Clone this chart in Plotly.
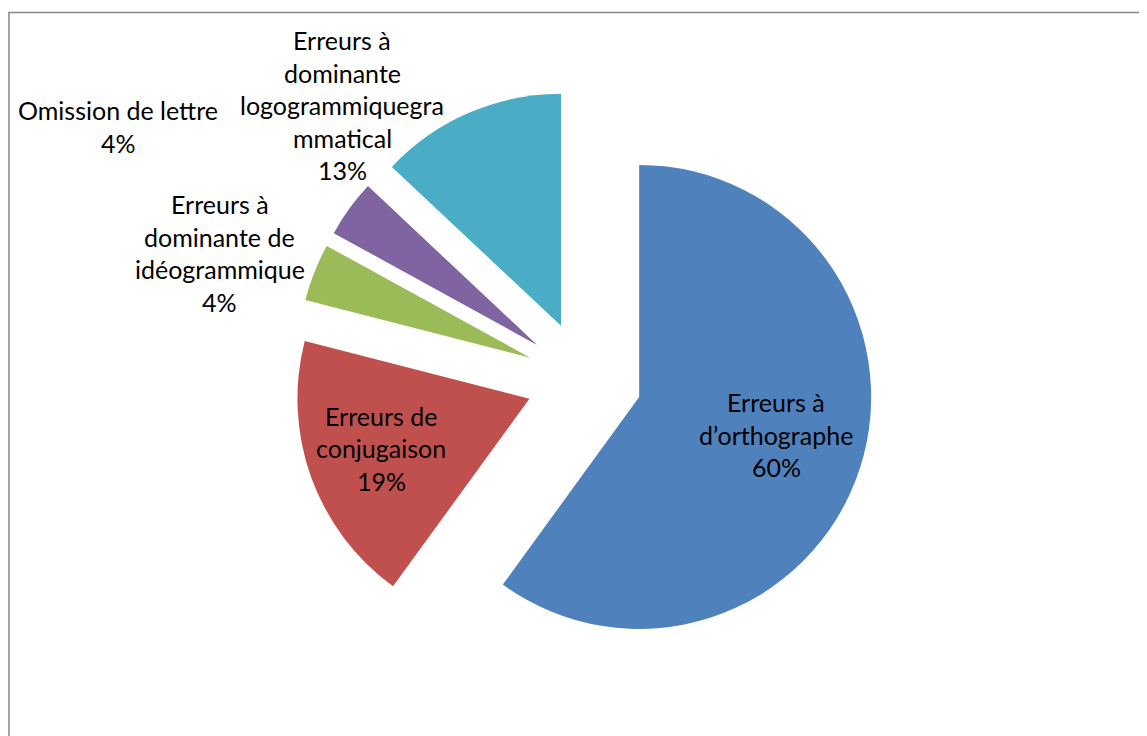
import plotly.graph_objects as go

# ---- data ----
categories = [
    "Erreurs à d’orthographe",
    "Erreurs de conjugaison",
    "Erreurs à dominante de idéogrammique",
    "Omission de lettre",
    "Erreurs à dominante logogrammiquegrammatical",
]
values = [60, 19, 4, 4, 13]
colors = ["#4F81BD", "#C0504D", "#9BBB59", "#8064A2", "#4BACC6"]

# label wrapping as displayed
label_lines = [
    ["Erreurs à", "d’orthographe"],
    ["Erreurs de", "conjugaison"],
    ["Erreurs à", "dominante de", "idéogrammique"],
    ["Omission de lettre"],
    ["Erreurs à", "dominante", "logogrammiquegra", "mmatical"],
]

# ---- layout constants (pixels, page coordinates) ----
OFF = 8  # page body margin
W, H = 1147 - OFF, 736 - OFF
FONT = "Lato"
FSIZE = 25
LINE = 32.5
# centre (x) and first-line centre (y) of each label, in page pixels
label_pos = [(776, 402), (381, 416), (220, 204), (118, 110), (342, 40)]

total = sum(values)
pcts = [f"{round(v / total * 100)}%" for v in values]

fig = go.Figure(
    go.Pie(
        labels=categories,
        values=values,
        sort=False,
        direction="clockwise",
        rotation=0,
        pull=[0.25] * len(values),
        marker=dict(colors=colors, line=dict(width=0)),
        textinfo="none",
        hoverinfo="label+percent",
        showlegend=False,
        domain=dict(x=[0.20571, 0.80571], y=[0.092033, 0.888736]),
    )
)

annotations = []
for lines, pct, (px, py) in zip(label_lines, pcts, label_pos):
    for i, t in enumerate(lines + [pct]):
        annotations.append(
            dict(
                x=(px - OFF) / W,
                y=1 - (py - OFF + i * LINE) / H,
                xref="paper",
                yref="paper",
                text=t,
                showarrow=False,
                xanchor="center",
                yanchor="middle",
                font=dict(family=FONT, size=FSIZE, color="#000000"),
            )
        )

fig.update_layout(
    width=W,
    height=H,
    margin=dict(l=0, r=0, t=0, b=0),
    paper_bgcolor="white",
    plot_bgcolor="white",
    annotations=annotations,
    shapes=[
        dict(
            type="rect",
            xref="paper",
            yref="paper",
            x0=(9 - OFF) / W,
            y0=-0.05,
            x1=1.05,
            y1=1 - (12.5 - OFF) / H,
            line=dict(color="#878787", width=1.5),
            fillcolor="rgba(0,0,0,0)",
        )
    ],
)

fig.write_html("out.html")
